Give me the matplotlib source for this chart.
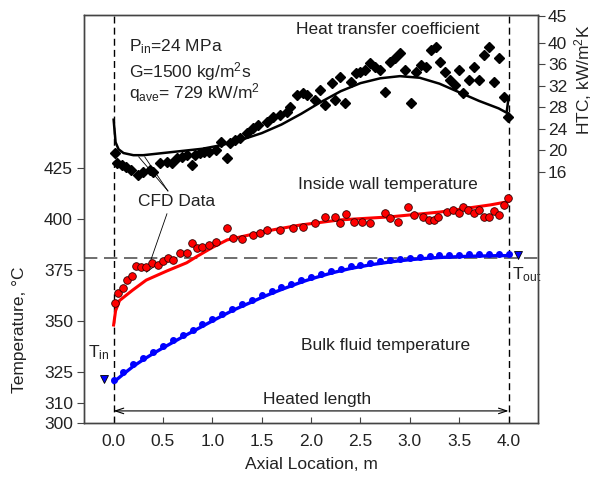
import matplotlib
matplotlib.use('Agg')
import matplotlib.pyplot as plt

plt.rcParams['font.family'] = ['Liberation Sans', 'DejaVu Sans']
plt.rcParams['mathtext.fontset'] = 'custom'
plt.rcParams['mathtext.rm'] = 'Liberation Sans'
plt.rcParams['mathtext.it'] = 'Liberation Sans:italic'

# HTC, experiment (diamonds) - kW/m2K
htc_x = [0.01, 0.03, 0.08, 0.13, 0.18, 0.25, 0.30, 0.37, 0.40, 0.47, 0.54, 0.59,
         0.64, 0.69, 0.74, 0.79, 0.82, 0.87, 0.92, 0.97, 1.04, 1.09, 1.15, 1.18,
         1.23, 1.28, 1.35, 1.41, 1.46, 1.55, 1.61, 1.69, 1.76, 1.79, 1.86, 1.92,
         1.96, 2.04, 2.09, 2.14, 2.21, 2.24, 2.29, 2.34, 2.40, 2.45, 2.50, 2.55,
         2.60, 2.65, 2.70, 2.75, 2.80, 2.85, 2.90, 2.95, 3.01, 3.06, 3.11, 3.16,
         3.21, 3.26, 3.31, 3.36, 3.41, 3.46, 3.50, 3.54, 3.60, 3.65, 3.70, 3.75,
         3.80, 3.85, 3.90, 3.95, 3.99]
htc_y = [19.5, 17.7, 17.3, 16.9, 16.4, 15.4, 16.0, 16.4, 16.0, 17.7, 17.9, 17.7,
         18.6, 18.8, 19.2, 17.3, 19.2, 19.5, 19.7, 19.7, 20.1, 21.6, 18.6, 21.4,
         22.0, 22.3, 23.3, 24.2, 24.7, 25.3, 26.2, 26.6, 27.2, 28.1, 30.3, 30.7,
         30.3, 29.4, 31.3, 28.5, 32.6, 29.4, 33.7, 28.8, 32.7, 34.4, 34.6, 35.0,
         36.3, 35.5, 35.0, 30.9, 36.5, 37.2, 38.1, 35.0, 28.8, 34.6, 35.9, 35.5,
         38.7, 39.3, 36.5, 34.6, 33.1, 32.2, 35.0, 30.7, 33.1, 35.5, 33.1, 37.8,
         39.3, 32.7, 37.2, 30.0, 26.2]

# HTC, CFD
htc_cfd_x = [0.0, 0.02, 0.05, 0.1, 0.2, 0.3, 0.5, 0.7, 0.9, 1.1, 1.3, 1.5, 1.7,
             1.9, 2.1, 2.3, 2.5, 2.7, 2.9, 3.1, 3.3, 3.5, 3.7, 3.9, 3.98, 4.0]
htc_cfd_y = [25.7, 21.5, 20.2, 19.5, 19.1, 19.1, 19.5, 19.9, 20.3, 21.0, 22.0,
             23.2, 24.8, 26.8, 29.0, 31.0, 32.5, 33.4, 33.8, 33.5, 32.4, 30.8,
             29.2, 27.8, 27.0, 29.8]

# inside wall temperature, experiment
wall_x = [0.01, 0.04, 0.09, 0.14, 0.19, 0.23, 0.28, 0.33, 0.39, 0.45, 0.50, 0.55,
          0.60, 0.67, 0.74, 0.79, 0.84, 0.90, 0.97, 1.04, 1.15, 1.21, 1.30, 1.41,
          1.48, 1.55, 1.69, 1.82, 1.92, 2.04, 2.14, 2.24, 2.29, 2.35, 2.43, 2.52,
          2.60, 2.75, 2.80, 2.88, 2.98, 3.04, 3.13, 3.19, 3.24, 3.29, 3.38, 3.44,
          3.50, 3.54, 3.59, 3.65, 3.70, 3.75, 3.80, 3.85, 3.90, 3.95, 3.99]
wall_y = [358.8, 363.7, 366.2, 370.1, 372.1, 377.0, 376.5, 376.5, 378.4, 377.5,
          379.4, 380.9, 379.9, 383.3, 383.3, 388.2, 385.8, 386.3, 387.3, 388.7,
          395.6, 390.7, 390.2, 392.2, 393.1, 394.6, 394.6, 395.6, 396.1, 398.0,
          401.0, 401.0, 398.0, 402.5, 398.5, 398.5, 398.0, 403.0, 400.5, 398.5,
          405.9, 402.0, 401.0, 399.5, 399.5, 401.0, 403.4, 404.4, 403.0, 405.9,
          404.4, 403.0, 404.4, 401.0, 401.0, 403.9, 402.0, 406.9, 410.3]

# inside wall temperature, CFD
wall_cfd_x = [0.0, 0.02, 0.06, 0.19, 0.33, 0.54, 0.74, 0.84, 1.0, 1.15, 1.38,
              1.61, 1.89, 2.29, 2.80, 3.31, 3.82, 4.0]
wall_cfd_y = [348.0, 355.0, 360.0, 365.0, 370.0, 374.5, 378.5, 381.5, 386.0,
              389.7, 392.2, 394.6, 397.0, 399.5, 401.0, 403.4, 406.9, 408.5]

# bulk fluid temperature
bulk_x = [0.0, 0.1, 0.2, 0.3, 0.4, 0.5, 0.6, 0.7, 0.8, 0.9, 1.0, 1.1, 1.2, 1.3,
          1.4, 1.5, 1.6, 1.7, 1.8, 1.9, 2.0, 2.1, 2.2, 2.3, 2.4, 2.5, 2.6, 2.7,
          2.8, 2.9, 3.0, 3.1, 3.2, 3.3, 3.4, 3.5, 3.6, 3.7, 3.8, 3.9, 4.0]
bulk_cfd = [320.0, 324.0, 327.8, 331.0, 334.0, 336.8, 339.5, 342.2, 344.8, 347.4,
            350.0, 352.5, 355.0, 357.2, 359.3, 361.5, 363.5, 365.4, 367.2, 369.0,
            370.6, 372.0, 373.4, 374.6, 375.7, 376.6, 377.5, 378.2, 378.9, 379.5,
            380.0, 380.4, 380.8, 381.1, 381.3, 381.5, 381.7, 381.8, 381.9, 382.0,
            382.0]
bulk_exp = [321.0, 325.0, 328.8, 332.0, 335.0, 337.8, 340.5, 343.2, 345.8, 348.4,
            351.0, 353.5, 356.0, 358.2, 360.3, 362.5, 364.5, 366.4, 368.2, 370.0,
            371.6, 373.0, 374.4, 375.6, 376.7, 377.6, 378.5, 379.2, 379.9, 380.5,
            381.0, 381.4, 381.8, 382.1, 382.3, 382.5, 382.7, 382.8, 382.9, 383.0,
            383.0]

t_in = (-0.10, 321.6)
t_out = (4.10, 382.3)

fig = plt.figure(figsize=(6, 4.79), dpi=100)
ax = fig.add_axes([0.14, 0.117, 0.757, 0.852])
ax2 = ax.twinx()

txt = '#222222'
frame = '#444444'

ax.set_xlim(-0.3, 4.3)
ax.set_ylim(300, 500)
ax2.set_ylim(-30.7, 45.2)

ax.axvline(0, color='black', ls=(0, (5, 3)), lw=1.0)
ax.axvline(4.0, color='black', ls=(0, (5, 3)), lw=1.0)
ax.axhline(381, color='#555555', ls=(0, (8, 4)), lw=1.2)

ax.plot(wall_cfd_x, wall_cfd_y, color='red', lw=2.2, zorder=3)
ax.plot(wall_x, wall_y, 'o', color='red', mec='#330000', mew=0.6, ms=5.5, zorder=4)
ax.plot(bulk_x, bulk_cfd, color='blue', lw=2.4, zorder=3)
ax.plot(bulk_x, bulk_exp, 'o', color='blue', ms=4, zorder=3)
ax.plot(*t_in, 'v', color='blue', mec='black', mew=0.6, ms=6)
ax.plot(*t_out, 'v', color='blue', mec='black', mew=0.6, ms=6)

ax2.plot(htc_cfd_x, htc_cfd_y, color='black', lw=1.8, zorder=3)
ax2.plot(htc_x, htc_y, 'D', color='black', ms=5.5, zorder=4)

# CFD Data leader lines
ax.plot([0.55, 0.254], [413.7, 430.4], color='black', lw=0.6)
ax.plot([0.55, 0.315], [413.7, 430.4], color='black', lw=0.6)
ax.plot([0.54, 0.335], [402.5, 374.0], color='black', lw=0.6)
ax.plot([0.335, 0.42], [374.0, 377.0], color='black', lw=0.6)

# heated length arrow
ax.annotate('', xy=(0, 305.9), xytext=(4.0, 305.9),
            arrowprops=dict(arrowstyle='<->, head_length=0.6, head_width=0.2',
                            lw=0.8, color='black', shrinkA=0, shrinkB=0))

fs = 12.5
ax.text(2.78, 492.6, 'Heat transfer coefficient', ha='center', va='center', fontsize=fs, color=txt)
ax.text(0.16, 484.3, r'P$_{\mathrm{in}}$=24 MPa', ha='left', va='center', fontsize=fs, color=txt)
ax.text(0.16, 472.0, r'G=1500 kg/m$^{2}$s', ha='left', va='center', fontsize=fs, color=txt)
ax.text(0.16, 461.8, r'q$_{\mathrm{ave}}$= 729 kW/m$^{2}$', ha='left', va='center', fontsize=fs, color=txt)
ax.text(2.78, 416.7, 'Inside wall temperature', ha='center', va='center', fontsize=fs, color=txt)
ax.text(0.64, 408.3, 'CFD Data', ha='center', va='center', fontsize=fs, color=txt)
ax.text(2.75, 338.2, 'Bulk fluid temperature', ha='center', va='center', fontsize=fs, color=txt)
ax.text(2.06, 311.3, 'Heated length', ha='center', va='center', fontsize=fs, color=txt)
ax.text(-0.26, 334.3, r'T$_{\mathrm{in}}$', ha='left', va='center', fontsize=fs, color=txt)
ax.text(4.03, 372.5, r'T$_{\mathrm{out}}$', ha='left', va='center', fontsize=fs, color=txt)

ax.set_xticks([0.0, 0.5, 1.0, 1.5, 2.0, 2.5, 3.0, 3.5, 4.0])
ax.set_xticklabels(['0.0', '0.5', '1.0', '1.5', '2.0', '2.5', '3.0', '3.5', '4.0'])
ax.set_yticks([300, 310, 325, 350, 375, 400, 425])
ax2.set_yticks([16, 20, 24, 28, 32, 36, 40, 45])

ax.tick_params(axis='x', direction='in', length=4, pad=8, labelsize=fs, colors=frame, labelcolor=txt)
ax.tick_params(axis='y', direction='out', length=5, pad=3, labelsize=fs, colors=frame, labelcolor=txt)
ax2.tick_params(axis='y', direction='out', length=5, pad=2, labelsize=fs, colors=frame, labelcolor=txt)

for a in (ax, ax2):
    for s in a.spines.values():
        s.set_color(frame)
        s.set_linewidth(1.0)

ax.set_xlabel('Axial Location, m', fontsize=fs, color=txt, labelpad=6)
fig.text(20 / 600, 1 - 330 / 479, 'Temperature, °C', rotation=90, ha='center', va='center',
         fontsize=fs, color=txt)
fig.text(583 / 600, 1 - 80 / 479, r'HTC, kW/m$^{2}$K', rotation=90, ha='center', va='center',
         fontsize=fs, color=txt)

fig.savefig('out.png', dpi=100)
